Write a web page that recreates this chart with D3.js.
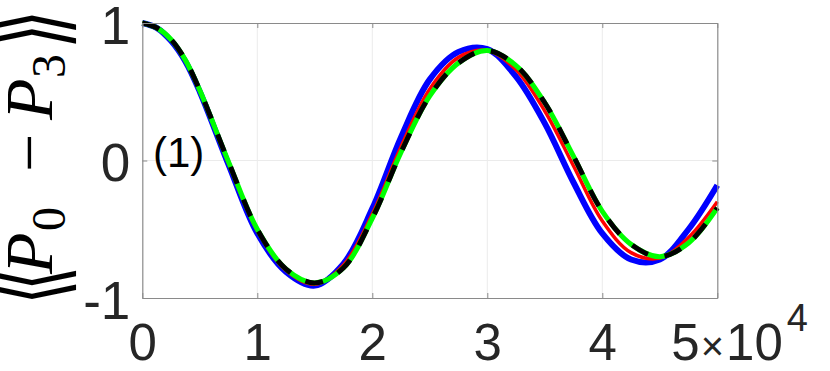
<!DOCTYPE html>
<html lang="en">
<head>
    <meta charset="UTF-8" />
    <title>P0 - P3</title>
    <script src="https://d3js.org/d3.v7.min.js"></script>
    <style>
        body { margin: 0; background: #fff; }
        .tick text { font-family: "Liberation Sans", Arial, sans-serif; fill: #262626; }
    </style>
</head>
<body>
    <div class="canvas"></div>

    <script>
        /* data (time in units of 10^4) */
        const timeValues = [0, 0.125, 0.25, 0.375, 0.5, 0.75, 1, 1.25, 1.5, 1.75, 2, 2.25, 2.5, 2.75, 3, 3.25, 3.5, 3.75, 4, 4.25, 4.5, 4.75, 5];
        const blueValues  = [1.00, 0.965, 0.87, 0.72, 0.50, -0.03, -0.53, -0.81, -0.91, -0.75, -0.35, 0.17, 0.59, 0.79, 0.81, 0.61, 0.27, -0.16, -0.53, -0.72, -0.72, -0.50, -0.18];
        const redValues   = [1.00, 0.965, 0.875, 0.725, 0.505, -0.02, -0.51, -0.80, -0.90, -0.76, -0.39, 0.10, 0.52, 0.75, 0.80, 0.66, 0.36, -0.04, -0.44, -0.67, -0.71, -0.56, -0.30];
        const greenValues = [1.00, 0.965, 0.88, 0.73, 0.51, -0.01, -0.50, -0.79, -0.89, -0.78, -0.42, 0.06, 0.47, 0.71, 0.80, 0.69, 0.42, 0.03, -0.37, -0.61, -0.70, -0.60, -0.345];
        const blackValues = [1.00, 0.965, 0.88, 0.73, 0.51, -0.01, -0.50, -0.79, -0.89, -0.78, -0.42, 0.06, 0.47, 0.71, 0.80, 0.69, 0.42, 0.03, -0.37, -0.61, -0.70, -0.60, -0.345];

        const xTicks = [0, 1, 2, 3, 4, 5];
        const xTickLabels = ["0", "1", "2", "3", "4", ""];
        const yTicks = [-1, 0, 1];
        const yTickLabels = ["-1", "0", "1"];

        /* svg size */
        const width = 830, height = 371;
        const [plotLeft, plotRight, plotTop, plotBottom] = [142.3, 717.3, 23, 298];

        const svg = d3.select(".canvas").append("svg")
            .attr("width", width)
            .attr("height", height);

        const x = d3.scaleLinear().domain([0, 5]).range([plotLeft, plotRight]);
        const y = d3.scaleLinear().domain([-1, 1]).range([plotBottom, plotTop]);

        // grid
        svg.append("g").selectAll("line").data(xTicks.slice(1, -1)).join("line")
            .attr("x1", d => x(d)).attr("x2", d => x(d))
            .attr("y1", plotTop).attr("y2", plotBottom)
            .attr("stroke", "#ebebeb").attr("stroke-width", 1);
        svg.append("g").selectAll("line").data([0]).join("line")
            .attr("x1", plotLeft).attr("x2", plotRight)
            .attr("y1", d => y(d)).attr("y2", d => y(d))
            .attr("stroke", "#ebebeb").attr("stroke-width", 1);

        // lines
        const line = (vals) => d3.line()
            .x((d, i) => x(timeValues[i]))
            .y(d => y(d))
            .curve(d3.curveCatmullRom.alpha(0.5))(vals);

        svg.append("path").attr("d", line(blueValues))
            .attr("fill", "none").attr("stroke", "#0000ff").attr("stroke-width", 6);
        svg.append("path").attr("d", line(redValues))
            .attr("fill", "none").attr("stroke", "#ff0000").attr("stroke-width", 3.5);
        svg.append("path").attr("d", line(greenValues))
            .attr("fill", "none").attr("stroke", "#00ff00").attr("stroke-width", 5);
        svg.append("path").attr("d", line(blackValues))
            .attr("fill", "none").attr("stroke", "#000").attr("stroke-width", 5)
            .attr("stroke-dasharray", "18,17");

        // axes (box with inward ticks)
        const axisColor = "#8a8a8a";
        const xAxis = svg.append("g").attr("transform", `translate(0,${plotBottom})`)
            .call(d3.axisBottom(x).tickValues(xTicks).tickSizeInner(-5).tickSizeOuter(0)
                .tickPadding(0).tickFormat((d, i) => xTickLabels[i]));
        xAxis.selectAll("text").attr("font-size", 51).attr("dy", null).attr("y", 62);

        const yAxis = svg.append("g").attr("transform", `translate(${plotLeft},0)`)
            .call(d3.axisLeft(y).tickValues(yTicks).tickSizeInner(-5).tickSizeOuter(0)
                .tickPadding(0).tickFormat((d, i) => yTickLabels[i]));
        yAxis.selectAll("text").attr("font-size", 53).attr("dy", null)
            .attr("x", -12).attr("y", 20);

        svg.append("g").attr("transform", `translate(0,${plotTop})`)
            .call(d3.axisTop(x).tickValues(xTicks).tickSizeInner(-5).tickSizeOuter(0).tickFormat(""));
        svg.append("g").attr("transform", `translate(${plotRight},0)`)
            .call(d3.axisRight(y).tickValues(yTicks).tickSizeInner(-5).tickSizeOuter(0).tickFormat(""));

        svg.selectAll(".domain, .tick line").attr("stroke", axisColor);
        svg.selectAll(".domain").attr("stroke-width", 1.2);

        // exponent label at the end of the x axis
        const expText = svg.append("text")
            .attr("x", x(5) - 46).attr("y", plotBottom + 62)
            .attr("font-family", "Liberation Sans, Arial, sans-serif")
            .attr("font-size", 51).attr("fill", "#262626");
        expText.append("tspan").text("5");
        expText.append("tspan").attr("font-size", 40).attr("dx", 1).text("×");
        expText.append("tspan").attr("dx", 2).text("10");
        expText.append("tspan").attr("font-size", 38).attr("dx", 4).attr("dy", -29).text("4");

        // panel label
        svg.append("text").attr("x", 153).attr("y", 167)
            .attr("font-family", "Liberation Sans, Arial, sans-serif")
            .attr("font-size", 42).attr("fill", "#000").text("(1)");

        // y label: <<P_0 - P_3>>
        const yLabel = svg.append("text")
            .attr("transform", "translate(52,0) rotate(-90)")
            .attr("font-family", "Liberation Serif, serif")
            .attr("fill", "#000");
        yLabel.append("tspan").attr("x", -274).attr("y", 0)
            .attr("font-size", 68).attr("font-style", "italic").text("P");
        yLabel.append("tspan").attr("x", -231).attr("y", 13)
            .attr("font-size", 48).text("0");
        yLabel.append("tspan").attr("x", -172).attr("y", 0)
            .attr("font-size", 68).text("−");
        yLabel.append("tspan").attr("x", -120).attr("y", 0)
            .attr("font-size", 68).attr("font-style", "italic").text("P");
        yLabel.append("tspan").attr("x", -78).attr("y", 13)
            .attr("font-size", 48).text("3");

        // tall angle brackets
        const brackets = [["⟨⟨", -305], ["⟩⟩", -49]];
        svg.append("g").selectAll("text").data(brackets).join("text")
            .attr("transform", "translate(52,0) rotate(-90) scale(1,1.5)")
            .attr("x", d => d[1]).attr("y", 7.3)
            .attr("font-family", "DejaVu Sans").attr("font-size", 66)
            .attr("letter-spacing", -12).attr("fill", "#000")
            .text(d => d[0]);
    </script>
</body>
</html>
